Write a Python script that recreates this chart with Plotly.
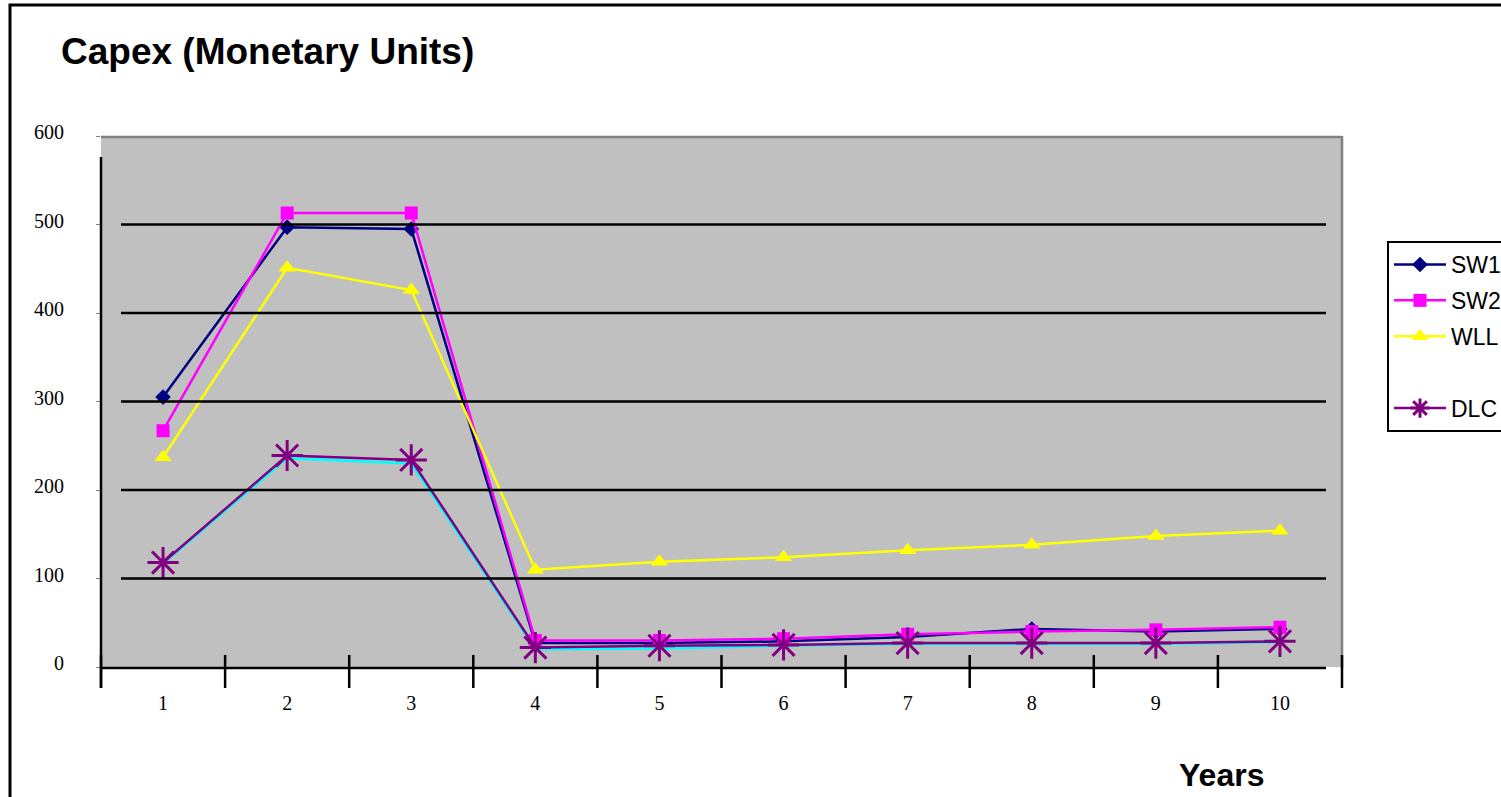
import plotly.graph_objects as go

# ---- data -------------------------------------------------------------
years = [1, 2, 3, 4, 5, 6, 7, 8, 9, 10]
year_labels = ["1", "2", "3", "4", "5", "6", "7", "8", "9", "10"]
y_ticks = [0, 100, 200, 300, 400, 500, 600]

sw1 = [305, 497, 495, 27, 27, 29, 34, 43, 40, 43]
sw2 = [267, 513, 513, 30, 30, 32, 37, 40, 42, 45]
wll = [237, 451, 426, 110, 119, 124, 132, 138, 148, 154]
dlc = [118, 239, 234, 22, 24, 25, 27, 27, 27, 29]
dlc_base = [117, 236, 230, 20, 21, 24, 26, 26, 26, 28]

# ---- geometry (pixels) -------------------------------------------------
W, H = 1501, 797
PL, PR, PT, PB = 101, 1342, 136, 667


def px(x):
    return (x - PL) / (PR - PL)


def py(y):
    return (PB - y) / (PB - PT)


SERIF = "Times New Roman, Liberation Serif, serif"
SANS = "Arial, Liberation Sans, sans-serif"

fig = go.Figure()

fig.add_trace(go.Scatter(
    x=years, y=dlc_base, mode="lines", showlegend=False,
    line=dict(color="#00FFFF", width=2.5), hoverinfo="skip"))
fig.add_trace(go.Scatter(
    x=years, y=sw1, name="SW1", mode="lines+markers", legendgroup="a",
    line=dict(color="#000080", width=2.5),
    marker=dict(symbol="diamond", size=12, color="#000080")))
fig.add_trace(go.Scatter(
    x=years, y=sw2, name="SW2", mode="lines+markers", legendgroup="b",
    line=dict(color="#FF00FF", width=2.5),
    marker=dict(symbol="square", size=13, color="#FF00FF")))
fig.add_trace(go.Scatter(
    x=years, y=wll, name="WLL", mode="lines+markers", legendgroup="c",
    line=dict(color="#FFFF00", width=2.5),
    marker=dict(symbol="triangle-up", size=15, color="#FFFF00")))
# blank row in the legend
fig.add_trace(go.Scatter(
    x=[None], y=[None], name=" ", mode="lines", legendgroup="d",
    line=dict(color="rgba(0,0,0,0)", width=1)))
fig.add_trace(go.Scatter(
    x=years, y=dlc, name="DLC", mode="lines+markers", legendgroup="e",
    line=dict(color="#800080", width=2.5),
    marker=dict(symbol="asterisk-open", size=26,
                line=dict(color="#800080", width=3))))

shapes = []
# horizontal grid lines (shorter than the plot area)
for v in y_ticks[1:-1]:
    shapes.append(dict(type="line", xref="paper", yref="y",
                       x0=px(121), x1=px(1326), y0=v, y1=v,
                       line=dict(color="black", width=2.5)))
# plot frame: grey top/right, black bottom/left axes
shapes.append(dict(type="line", xref="paper", yref="paper",
                   x0=px(101), x1=px(1342), y0=py(137), y1=py(137),
                   line=dict(color="#808080", width=2.5)))
shapes.append(dict(type="line", xref="paper", yref="paper",
                   x0=px(1342), x1=px(1342), y0=py(136), y1=py(668),
                   line=dict(color="#808080", width=2.5)))
shapes.append(dict(type="line", xref="paper", yref="paper",
                   x0=px(101), x1=px(1326), y0=py(668), y1=py(668),
                   line=dict(color="black", width=2.5)))
shapes.append(dict(type="line", xref="paper", yref="paper",
                   x0=px(101), x1=px(101), y0=py(157), y1=py(688),
                   line=dict(color="black", width=2.5)))
# category boundary ticks crossing the x axis
for k in range(len(years) + 1):
    shapes.append(dict(type="line", xref="paper", yref="paper",
                       x0=k / len(years), x1=k / len(years),
                       y0=py(655), y1=py(688),
                       line=dict(color="black", width=2.5)))
# outer chart border
shapes.append(dict(type="rect", xref="paper", yref="paper",
                   x0=px(10), x1=px(1520), y0=py(5), y1=py(820),
                   line=dict(color="black", width=3)))

fig.update_layout(
    width=W, height=H,
    margin=dict(l=PL, r=W - PR, t=PT, b=H - PB, autoexpand=False),
    paper_bgcolor="white",
    plot_bgcolor="#C0C0C0",
    shapes=shapes,
    showlegend=True,
    legend=dict(
        x=px(1387), y=py(241), xanchor="left", yanchor="top",
        bordercolor="black", borderwidth=2, bgcolor="white",
        font=dict(family=SANS, size=23, color="black"),
        itemwidth=52, tracegroupgap=3,
    ),
    xaxis=dict(
        range=[0.5, 10.5], tickmode="array", tickvals=years,
        ticktext=year_labels, ticks="", showgrid=False, zeroline=False,
        showline=False, ticklabelstandoff=22,
        tickfont=dict(family=SERIF, size=20, color="black"),
    ),
    yaxis=dict(
        range=[0, 600], tickmode="array", tickvals=y_ticks,
        ticks="outside", ticklen=4, tickcolor="#808080", tickwidth=1,
        showgrid=False, zeroline=False, showline=False,
        ticklabelstandoff=28, ticklabelshift=-4,
        tickfont=dict(family=SERIF, size=20, color="black"),
    ),
    annotations=[
        dict(text="<b>Capex (Monetary Units)</b>", xref="paper", yref="paper",
             x=px(59), y=py(52), xanchor="left", yanchor="middle",
             showarrow=False, font=dict(family=SANS, size=37, color="black")),
        dict(text="<b>Years</b>", xref="paper", yref="paper",
             x=px(1221), y=py(775), xanchor="center", yanchor="middle",
             showarrow=False, font=dict(family=SANS, size=32, color="black")),
    ],
)

fig.write_html("out.html")
